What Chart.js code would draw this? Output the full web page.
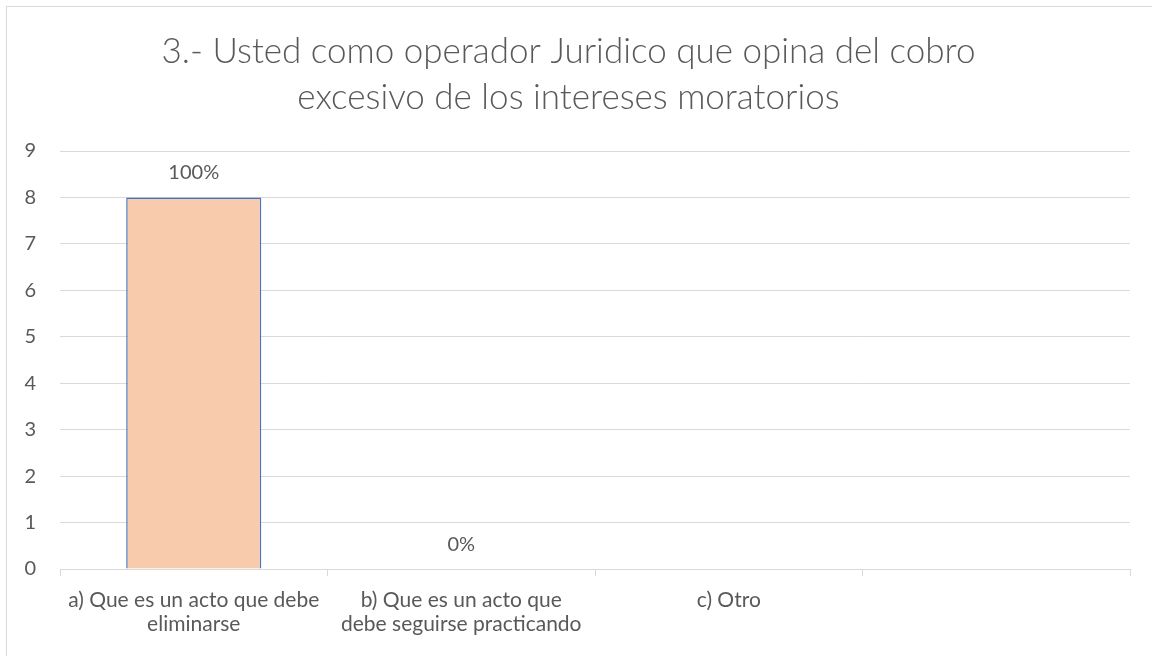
<!DOCTYPE html>
<html>
<head>
<meta charset="utf-8">
<script src="https://cdn.jsdelivr.net/npm/chart.js@4.4.1/dist/chart.umd.min.js"></script>
<style>
  body { margin: 0; background: #fff; overflow: hidden; }
  #box { position: absolute; left: 6px; top: 6px; width: 1160px; height: 670px; border: 1px solid #d9d9d9; }
  #box canvas { display: block; }
</style>
</head>
<body>
<div id="box"><canvas id="chart" width="1160" height="670"></canvas></div>
<script>
// Chart data
var categories = [
    ["a) Que es un acto que debe", "eliminarse"],
    ["b) Que es un acto que", "debe seguirse practicando"],
    "c) Otro",
    ""
];
var values = [8, 0, null, null];
var valueLabels = ["100%", "0%", "", ""];
var yTicks = [0, 1, 2, 3, 4, 5, 6, 7, 8, 9];

var textColor = '#595959';
var gridColor = '#d9d9d9';
var fontFamily = 'Lato, "Open Sans", sans-serif';

// draws the percentage above each bar
var barLabels = {
    id: 'barLabels',
    afterDatasetsDraw: function(chart) {
        var ctx = chart.ctx;
        var meta = chart.getDatasetMeta(0);
        ctx.save();
        ctx.fillStyle = textColor;
        ctx.font = '20px ' + fontFamily;
        ctx.textAlign = 'center';
        ctx.textBaseline = 'alphabetic';
        meta.data.forEach(function(bar, i) {
            if (values[i] === null || !valueLabels[i]) return;
            ctx.fillText(valueLabels[i], bar.x, bar.y - 18);
        });
        ctx.restore();
    }
};

var ctx = document.getElementById('chart');

var chartData = {
    labels: categories,
    datasets: [{
        data: values,
        backgroundColor: '#F8CBAD',
        borderColor: '#4472C4',
        borderWidth: 1.5,
        categoryPercentage: 1,
        barPercentage: 0.505
    }]
};

var chartOptions = {
    responsive: false,
    animation: false,
    layout: { padding: { left: 0, right: 37, top: 0, bottom: 40 } },
    plugins: {
        legend: { display: false },
        tooltip: { enabled: false },
        title: {
            display: true,
            text: ['3.- Usted como operador Juridico que opina del cobro', 'excesivo de los intereses moratorios'],
            color: textColor,
            font: { family: fontFamily, size: 35, weight: 300, lineHeight: 1.3 },
            padding: { top: 22, bottom: 31 }
        }
    },
    scales: {
        x: {
            grid: { display: true, drawOnChartArea: false, drawTicks: true, tickLength: 7, color: gridColor, offset: true },
            border: { color: gridColor, width: 1 },
            ticks: { color: textColor, font: { family: fontFamily, size: 21, lineHeight: 1.15 }, padding: 12, maxRotation: 0, autoSkip: false },
            afterFit: function(scale) { scale.height = 68; }
        },
        y: {
            min: 0,
            max: yTicks[yTicks.length - 1],
            grid: { color: gridColor, drawTicks: false },
            border: { display: false },
            afterBuildTicks: function(scale) {
                scale.ticks = yTicks.map(function(v) { return { value: v }; });
            },
            ticks: { color: textColor, font: { family: fontFamily, size: 20 }, padding: 24 },
            afterFit: function(scale) { scale.width = 53; }
        }
    }
};

var barChart = new Chart(ctx, {
    type: 'bar',
    data: chartData,
    options: chartOptions,
    plugins: [barLabels]
});
</script>
</body>
</html>
